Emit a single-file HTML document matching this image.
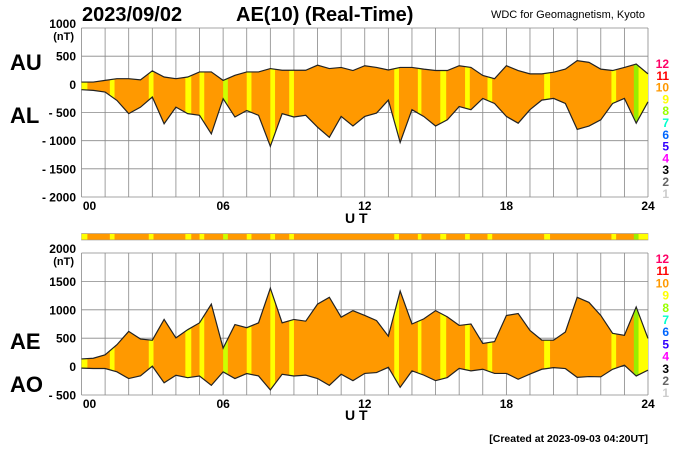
<!DOCTYPE html>
<html><head><meta charset="utf-8">
<style>
body{margin:0;background:#fff;width:700px;height:450px;overflow:hidden;font-family:"Liberation Sans",Arial,sans-serif}
svg{display:block}
text{font-family:"Liberation Sans",Arial,sans-serif;font-weight:bold}
</style></head><body>
<svg id="c" width="700" height="450" viewBox="0 0 700 450">
<text x="82" y="21" font-size="20">2023/09/02</text>
<text x="236" y="21" font-size="20">AE(10) (Real-Time)</text>
<text x="645" y="18" font-size="11" text-anchor="end" style="font-weight:normal">WDC for Geomagnetism, Kyoto</text>
<text x="10" y="70" font-size="22">AU</text>
<text x="10" y="123" font-size="22">AL</text>
<text x="10" y="349" font-size="22">AE</text>
<text x="10" y="392" font-size="22">AO</text>
<text x="345" y="223" font-size="14">U T</text>
<text x="345" y="420" font-size="14">U T</text>
<text x="648" y="442" font-size="10.5" text-anchor="end">[Created at 2023-09-03 04:20UT]</text>
</svg>
<script>
const hours=[0,0.5,1,1.5,2,2.5,3,3.5,4,4.5,5,5.5,6,6.5,7,7.5,8,8.5,9,9.5,10,10.5,11,11.5,12,12.5,13,13.5,14,14.5,15,15.5,16,16.5,17,17.5,18,18.5,19,19.5,20,20.5,21,21.5,22,22.5,23,23.5,24];
const auValues=[40,40,70,100,100,80,240,130,100,130,220,220,70,160,220,220,280,250,250,250,340,280,300,245,330,300,255,300,300,270,245,245,330,300,157,100,330,245,186,186,215,270,420,390,270,245,300,360,186];
const alValues=[-95,-107,-137,-285,-520,-405,-225,-700,-405,-520,-550,-880,-255,-580,-465,-550,-1100,-520,-580,-550,-760,-940,-570,-740,-570,-510,-280,-1030,-450,-570,-740,-630,-395,-450,-250,-340,-570,-690,-450,-280,-250,-340,-800,-740,-630,-340,-250,-690,-310];
const stripeStart=[0,1.2,2.85,4.4,5.0,6.0,7.0,8.0,8.8,13.25,14.25,15.2,16.25,17.2,19.6,22.45,23.4,23.6];
const stripeEnd=[0.25,1.4,3.05,4.65,5.2,6.2,7.2,8.2,9.0,13.45,14.4,15.45,16.45,17.4,19.85,22.65,23.6,24];
const stripeColor=["#ffff00","#ffff00","#ffff00","#ffff00","#ffff00","#ccff00","#ffff00","#ffff00","#ffff00","#ffff00","#ffff00","#ffff00","#ffff00","#ffff00","#ffff00","#ffff00","#99ee00","#ffff00"];
const xTicks=["00","06","12","18","24"];
const topYTicks=[1000,500,0,-500,-1000,-1500,-2000];
const botYTicks=[2000,1500,1000,500,0,-500];
const legendNums=["12","11","10","9","8","7","6","5","4","3","2","1"];
const legendColors=["#ff0066","#ff0000","#ff9900","#ffff00","#99ff00","#00ffcc","#0066ff","#3300ff","#ff00ff","#000000","#666666","#cccccc"];
const aeValues=auValues.map((u,i)=>u-alValues[i]);
const aoValues=auValues.map((u,i)=>(u+alValues[i])/2);

const NS="http://www.w3.org/2000/svg";
const svg=document.getElementById('c');
const X0=81.5,X1=648;
const xS=h=>X0+h/24*(X1-X0);
function mk(t,a,p){const e=document.createElementNS(NS,t);for(const k in a)e.setAttribute(k,a[k]);(p||svg).appendChild(e);return e;}

function panel(id,yTop,yBot,vTop,vBot,ticks,upper,lower,tickLabY,legY0,legStep){
  const yS=v=>yTop+(vTop-v)/(vTop-vBot)*(yBot-yTop);
  const g=mk('g',{});
  
  
  for(let h=0;h<=24;h++){const l=mk('line',{x1:xS(h),x2:xS(h),y1:yTop,y2:yBot,stroke:'#888','stroke-width':0.8},g);
    
    }
  ticks.forEach((v,i)=>{const l=mk('line',{x1:X0,x2:X1,y1:yS(v),y2:yS(v),stroke:'#888','stroke-width':0.8},g);
    
    
    const s=v<0?'- '+(-v):String(v);
    const t=mk('text',{x:76,y:yS(v)+(i==0?0:4.5),'font-size':12,'text-anchor':'end'},g);t.textContent=s;
    
    });
  const u=mk('text',{x:74,y:yS(ticks[0])+12,'font-size':11,'text-anchor':'end'},g);u.textContent='(nT)';
  
  
  let pts=hours.map((h,i)=>xS(h)+','+yS(upper[i]));
  let pts2=hours.map((h,i)=>xS(h)+','+yS(lower[i])).reverse();
  const cp=mk('clipPath',{id:id+'clip'},g);
  mk('polygon',{points:pts.concat(pts2).join(' ')},cp);
  const ar=mk('polygon',{points:pts.concat(pts2).join(' '),fill:'#ff9900'},g);
  
  
  const sg=mk('g',{'clip-path':'url(#'+id+'clip)'},g);
  stripeStart.forEach((s,i)=>{const r=mk('rect',{x:xS(s),y:yTop,width:xS(stripeEnd[i])-xS(s),height:yBot-yTop,fill:stripeColor[i]},sg);
    
    });
  const l1=mk('polyline',{points:pts.join(' '),fill:'none',stroke:'#222','stroke-width':1.2},g);
  
  
  const l2=mk('polyline',{points:pts2.join(' '),fill:'none',stroke:'#222','stroke-width':1.2},g);
  
  
  xTicks.forEach((s,i)=>{const t=mk('text',{x:xS(i*6)+(i==0?8:0),y:tickLabY,'font-size':12,'text-anchor':'middle'},g);t.textContent=s;
    
    });
  legendNums.forEach((s,i)=>{const t=mk('text',{x:669,y:legY0+i*legStep,'font-size':12,'text-anchor':'end',fill:legendColors[i]},g);t.textContent=s;
    
    });
}
panel('au-al',28,197,1000,-2000,topYTicks,auValues,alValues,210,68,11.8);
panel('ae-ao',253,395,2000,-500,botYTicks,aeValues,aoValues,408,263,12.2);
const bar=mk('rect',{x:X0,y:233.5,width:X1-X0,height:6.5,fill:'#ff9900',stroke:'#999','stroke-width':0.6});


stripeStart.forEach((s,i)=>{const r=mk('rect',{x:xS(s),y:234,width:xS(stripeEnd[i])-xS(s),height:5.5,fill:stripeColor[i]});
  
  });
</script>
</body></html>
